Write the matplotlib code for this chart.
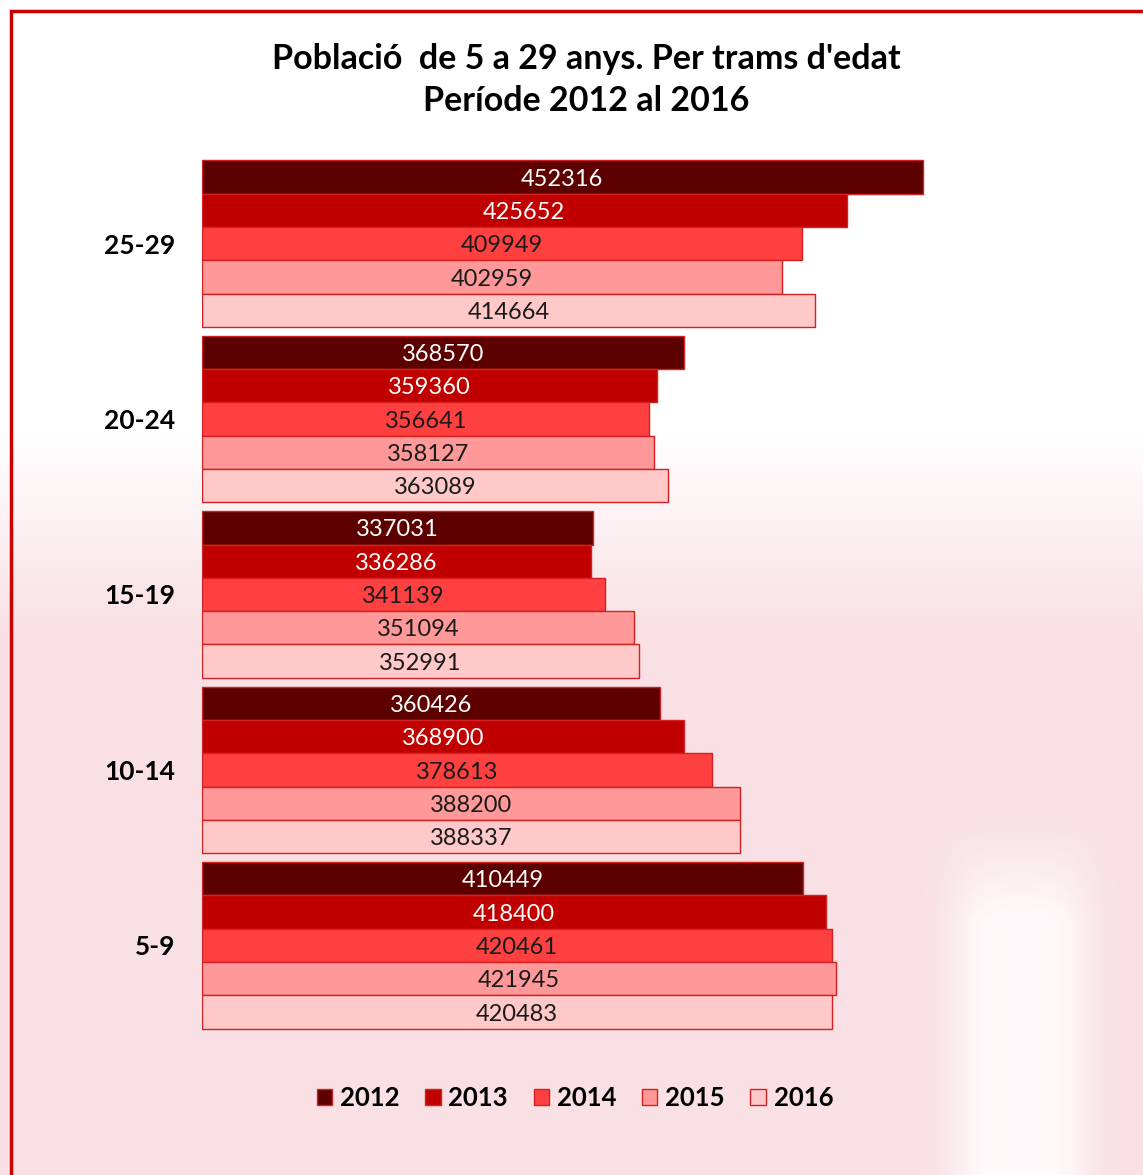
import numpy as np
import matplotlib.pyplot as plt
from matplotlib.patches import Rectangle

# Data
groups = ['5-9', '10-14', '15-19', '20-24', '25-29']
years = ['2012', '2013', '2014', '2015', '2016']
v2012 = [410449, 360426, 337031, 368570, 452316]
v2013 = [418400, 368900, 336286, 359360, 425652]
v2014 = [420461, 378613, 341139, 356641, 409949]
v2015 = [421945, 388200, 351094, 358127, 402959]
v2016 = [420483, 388337, 352991, 363089, 414664]
series = [v2012, v2013, v2014, v2015, v2016]

colors = ['#5c0000', '#c00000', '#ff4040', '#ff9999', '#ffc9c9']
text_colors = ['white', 'white', '#1a1a1a', '#1a1a1a', '#1a1a1a']

plt.rcParams['font.family'] = ['Lato', 'DejaVu Sans']

fig = plt.figure(figsize=(11.43, 11.75), dpi=100)
W, H = 1143, 1175

# soft pink wash (faded watermark look)
bg = fig.add_axes([0, 0, 1, 1], zorder=-10)
yy, xx = np.mgrid[0:H, 0:W]
alpha = np.clip((yy - 430) / 200.0, 0, 1) * 0.75
band = np.exp(-((xx - 1020) / 70.0) ** 4) * np.clip((yy - 820) / 100.0, 0, 1)
alpha = alpha * (1 - 0.85 * band)
img = np.zeros((H, W, 4))
img[..., 0] = 0.97
img[..., 1] = 0.84
img[..., 2] = 0.86
img[..., 3] = alpha
bg.imshow(img, aspect='auto', interpolation='bilinear')
bg.axis('off')

# red frame
fig.patches.append(Rectangle((11 / W, -0.1), 1.2, 1 - 11 / H + 0.1, transform=fig.transFigure,
                             facecolor='none', edgecolor='#cc0000', linewidth=2.5, zorder=10))

ax = fig.add_axes([202 / W, 1 - 1033 / H, (1059 - 202) / W, (1033 - 156) / H])
ax.patch.set_alpha(0)

y = np.arange(len(groups))
bar_h = 0.19
for i, (vals, c) in enumerate(zip(series, colors)):
    pos = y + (2 - i) * bar_h
    ax.barh(pos, np.array(vals) - 200000, left=200000, height=bar_h, color=c,
            edgecolor='#d42020', linewidth=1, label=years[i])
    for p, v in zip(pos, vals):
        ax.text((200000 + v) / 2, p - 0.012, str(v), ha='center', va='center',
                fontsize=17, color=text_colors[i])

ax.set_xlim(200000, 500000)
ax.set_ylim(-0.5, 4.5)
ax.set_yticks(y)
ax.set_yticklabels(groups, fontsize=19, fontweight='bold')
ax.tick_params(axis='y', length=0, pad=19)
ax.set_xticks([])
for s in ax.spines.values():
    s.set_visible(False)

fig.text(586 / W, 1 - 80 / H, "Població  de 5 a 29 anys. Per trams d'edat\nPeríode 2012 al 2016",
         ha='center', va='center', fontsize=24.5, fontweight='bold', linespacing=1.38)

handles, labels = ax.get_legend_handles_labels()
fig.legend(handles, labels, loc='center', bbox_to_anchor=(575 / W, 1 - 1098 / H), ncol=5,
           frameon=False, prop={'weight': 'bold', 'size': 18.5},
           handlelength=0.6, handleheight=0.6, handletextpad=0.3, columnspacing=1.0)

fig.savefig('out.png', dpi=100)
